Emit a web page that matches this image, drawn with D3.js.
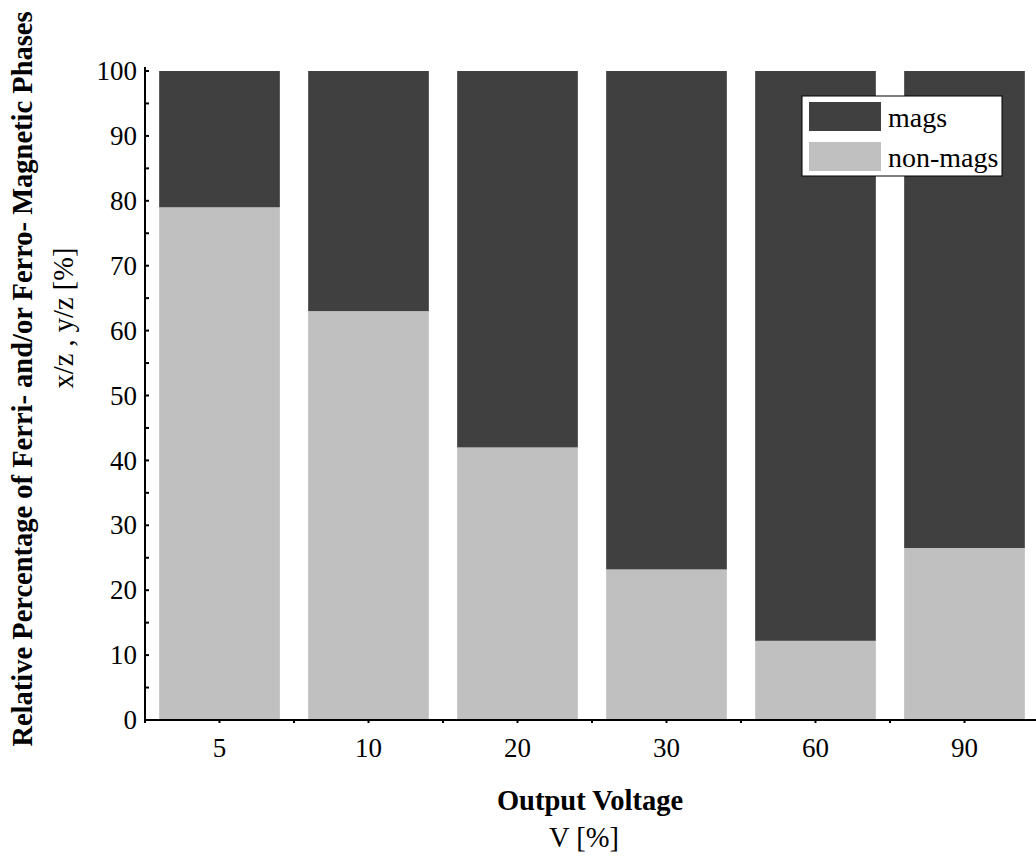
<!DOCTYPE html>
<html>
<head>
<meta charset="utf-8">
<script src="https://cdnjs.cloudflare.com/ajax/libs/d3/7.8.5/d3.min.js"></script>
<style>
  body { margin: 0; background: #fff; }
  svg { display: block; font-family: "Liberation Serif", "Times New Roman", serif; }
</style>
</head>
<body>
<div class="chart"></div>
<script>
var voltages = ["5", "10", "20", "30", "60", "90"]
var nonMags = [79, 63, 42, 23.2, 12.2, 26.5]
var mags = nonMags.map(function (v) { return 100 - v })
var seriesNames = ["mags", "non-mags"]
var yTicks = [0, 10, 20, 30, 40, 50, 60, 70, 80, 90, 100]

var width = 1036,
  height = 866

var svg = d3.select(".chart").append("svg")
  .attr("width", width)
  .attr("height", height)

var x0 = 145, y0 = 720, yTop = 71

var xScale = d3.scaleBand()
  .domain(voltages)
  .range([x0, x0 + 149 * voltages.length])
  .paddingInner(0.19)
  .paddingOuter(0.095)

var yScale = d3.scaleLinear()
  .domain([0, 100])
  .range([y0, yTop])

var colors = { "mags": "#404040", "non-mags": "#c0c0c0" }

var rows = voltages.map(function (v, i) {
  return { v: v, nonMags: nonMags[i], mags: mags[i] }
})

var bars = svg.append("g")
// non-mags at bottom
bars.selectAll("rect.nm")
  .data(rows)
  .enter().append("rect")
  .attr("class", "nm")
  .attr("x", function (d) { return xScale(d.v) })
  .attr("width", xScale.bandwidth())
  .attr("y", function (d) { return yScale(d.nonMags) })
  .attr("height", function (d) { return yScale(0) - yScale(d.nonMags) })
  .attr("fill", colors["non-mags"])

bars.selectAll("rect.m")
  .data(rows)
  .enter().append("rect")
  .attr("class", "m")
  .attr("x", function (d) { return xScale(d.v) })
  .attr("width", xScale.bandwidth())
  .attr("y", function (d) { return yScale(100) })
  .attr("height", function (d) { return yScale(d.nonMags) - yScale(100) })
  .attr("fill", colors["mags"])

// y axis
var yAxis = svg.append("g")
  .attr("transform", "translate(" + x0 + ",0)")
  .call(d3.axisLeft(yScale).tickValues(yTicks).tickSize(0).tickPadding(8))
yAxis.select(".domain").remove()
yAxis.selectAll("text").attr("font-size", 27).attr("fill", "#000")
  .style("font-family", "Liberation Serif")

svg.append("line")
  .attr("x1", x0).attr("x2", x0)
  .attr("y1", yScale(100) - 4).attr("y2", y0 + 1)
  .attr("stroke", "#000").attr("stroke-width", 2)

svg.append("g").selectAll("line")
  .data(d3.range(0, 101, 5))
  .enter().append("line")
  .attr("x1", x0 - 1).attr("x2", x0 + 4)
  .attr("y1", function (d) { return yScale(d) })
  .attr("y2", function (d) { return yScale(d) })
  .attr("stroke", "#000").attr("stroke-width", 2)

// x axis
svg.append("line")
  .attr("x1", x0 - 1).attr("x2", width)
  .attr("y1", y0).attr("y2", y0)
  .attr("stroke", "#000").attr("stroke-width", 2)

var step = xScale.step()
var tickXs = []
voltages.forEach(function (v) {
  tickXs.push(xScale(v) + xScale.bandwidth() / 2)
  tickXs.push(xScale(v) - xScale.paddingInner() * step / 2)
})
svg.append("g").selectAll("line")
  .data(tickXs)
  .enter().append("line")
  .attr("x1", function (d) { return d }).attr("x2", function (d) { return d })
  .attr("y1", y0 - 1).attr("y2", y0 + 3)
  .attr("stroke", "#000").attr("stroke-width", 2)

svg.append("g").selectAll("text")
  .data(voltages)
  .enter().append("text")
  .attr("x", function (d) { return xScale(d) + xScale.bandwidth() / 2 })
  .attr("y", 757)
  .attr("text-anchor", "middle")
  .attr("font-size", 27)
  .text(function (d) { return d })

// axis titles
svg.append("text")
  .attr("x", 590).attr("y", 810)
  .attr("text-anchor", "middle")
  .attr("font-size", 28.5).attr("font-weight", "bold")
  .text("Output Voltage")
svg.append("text")
  .attr("x", 584).attr("y", 847)
  .attr("text-anchor", "middle")
  .attr("font-size", 28.5)
  .text("V [%]")

svg.append("text")
  .attr("transform", "translate(32,379) rotate(-90)")
  .attr("text-anchor", "middle")
  .attr("font-size", 28.5).attr("font-weight", "bold")
  .text("Relative Percentage of Ferri- and/or Ferro- Magnetic Phases")
svg.append("text")
  .attr("transform", "translate(73,318) rotate(-90)")
  .attr("text-anchor", "middle")
  .attr("font-size", 28.5)
  .text("x/z , y/z [%]")

// legend
var legend = svg.append("g").attr("transform", "translate(802,96)")
legend.append("rect")
  .attr("width", 200).attr("height", 80)
  .attr("fill", "#fff").attr("stroke", "#000").attr("stroke-width", 1)
var li = legend.selectAll("g.item")
  .data(seriesNames)
  .enter().append("g")
  .attr("transform", function (d, i) { return "translate(7," + (6 + i * 40) + ")" })
li.append("rect")
  .attr("width", 72).attr("height", 29)
  .attr("fill", function (d) { return colors[d] })
li.append("text")
  .attr("x", 79).attr("y", 25)
  .attr("font-size", 28)
  .text(function (d) { return d })
</script>
</body>
</html>
